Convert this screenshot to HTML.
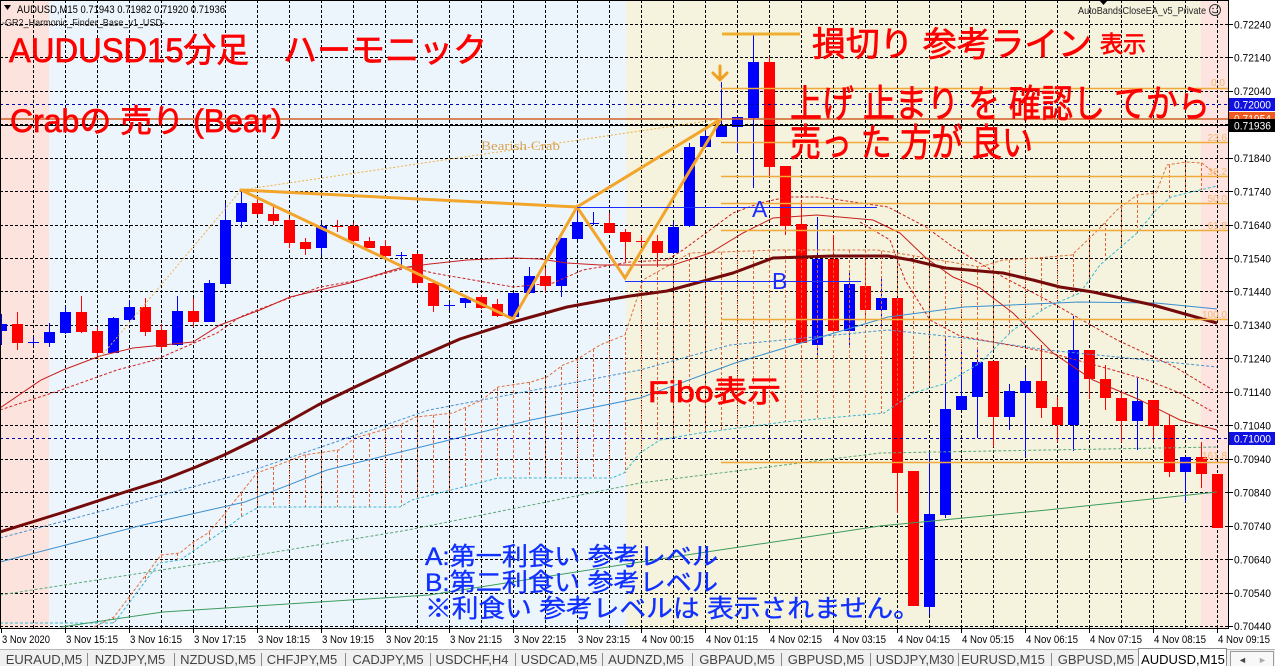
<!DOCTYPE html>
<html><head><meta charset="utf-8">
<style>
html,body{margin:0;padding:0;background:#fff;width:1275px;height:666px;overflow:hidden}
svg{display:block}
text{font-family:"Liberation Sans","Noto Sans CJK JP",sans-serif}
</style></head><body>
<svg width="1275" height="666" viewBox="0 0 1275 666" xmlns="http://www.w3.org/2000/svg">
<!-- backgrounds -->
<rect x="0" y="0" width="1275" height="666" fill="#ffffff"/>
<rect x="0" y="0" width="49" height="628" fill="#fde3de"/>
<rect x="49" y="0" width="577" height="628" fill="#edf5fc"/>
<rect x="626" y="0" width="575" height="628" fill="#f5f3dd"/>
<rect x="1201" y="0" width="27" height="628" fill="#fde4e0"/>

<!-- grid -->
<path d="M33.5 0V628M65.5 0V628M97.5 0V628M129.5 0V628M161.5 0V628M193.5 0V628M225.5 0V628M257.5 0V628M289.5 0V628M321.5 0V628M353.5 0V628M385.5 0V628M417.5 0V628M449.5 0V628M481.5 0V628M513.5 0V628M545.5 0V628M577.5 0V628M609.5 0V628M641.5 0V628M673.5 0V628M705.5 0V628M737.5 0V628M769.5 0V628M801.5 0V628M833.5 0V628M865.5 0V628M897.5 0V628M929.5 0V628M961.5 0V628M993.5 0V628M1025.5 0V628M1057.5 0V628M1089.5 0V628M1121.5 0V628M1153.5 0V628M1185.5 0V628M1217.5 0V628" stroke="#000" stroke-width="1" stroke-dasharray="3 2" fill="none"/>
<path d="M0 24.5H1228M0 57.5H1228M0 91.5H1228M0 124.5H1228M0 158.5H1228M0 191.5H1228M0 225.5H1228M0 258.5H1228M0 291.5H1228M0 325.5H1228M0 358.5H1228M0 392.5H1228M0 425.5H1228M0 459.5H1228M0 492.5H1228M0 526.5H1228M0 559.5H1228M0 593.5H1228M0 626.5H1228" stroke="#000" stroke-width="1" stroke-dasharray="3 2" fill="none"/>

<!-- candles blue -->
<g stroke="#0000ff" stroke-width="1">
<path d="M1.5 314V345M33.5 337V345M49.5 323V347M65.5 307V334M113.5 317V353M129.5 300V321M177.5 296V346M209.5 280V322M225.5 203V285M241.5 190V228M321.5 223V255M401.5 252V265M449.5 303V310M465.5 298V308M513.5 293V318M529.5 267V294M561.5 238V297M577.5 208V240M593.5 212V225M673.5 222V254M689.5 143V227M705.5 127V148M721.5 82V137M737.5 117V153M753.5 34V188M817.5 217V357M849.5 273V348M881.5 278V327M929.5 452V615M945.5 337V518M961.5 352V410M977.5 348V438M1009.5 384V430M1025.5 368V457M1073.5 316V451M1137.5 378V450M1185.5 457V502"/>
<path d="M28 342.5H39M396 255.5H407M444 305.5H455M588 223.5H599"/>
</g>
<g fill="#0000ff">
<rect x="-4" y="324" width="11" height="7"/>
<rect x="44" y="332" width="11" height="11"/>
<rect x="60" y="312" width="11" height="21"/>
<rect x="108" y="318" width="11" height="35"/>
<rect x="124" y="307" width="11" height="13"/>
<rect x="172" y="311" width="11" height="34"/>
<rect x="204" y="283" width="11" height="39"/>
<rect x="220" y="220" width="11" height="64"/>
<rect x="236" y="203" width="11" height="19"/>
<rect x="316" y="226" width="11" height="22"/>
<rect x="460" y="298" width="11" height="5"/>
<rect x="508" y="293" width="11" height="24"/>
<rect x="524" y="276" width="11" height="17"/>
<rect x="556" y="238" width="11" height="48"/>
<rect x="572" y="222" width="11" height="17"/>
<rect x="668" y="227" width="11" height="26"/>
<rect x="684" y="147" width="11" height="79"/>
<rect x="700" y="136" width="11" height="11"/>
<rect x="716" y="126" width="11" height="11"/>
<rect x="732" y="117" width="11" height="10"/>
<rect x="748" y="62" width="11" height="56"/>
<rect x="812" y="259" width="11" height="86"/>
<rect x="844" y="284" width="11" height="47"/>
<rect x="876" y="298" width="11" height="12"/>
<rect x="924" y="514" width="11" height="93"/>
<rect x="940" y="409" width="11" height="106"/>
<rect x="956" y="396" width="11" height="14"/>
<rect x="972" y="362" width="11" height="35"/>
<rect x="1004" y="391" width="11" height="26"/>
<rect x="1020" y="381" width="11" height="12"/>
<rect x="1068" y="350" width="11" height="75"/>
<rect x="1132" y="401" width="11" height="20"/>
<rect x="1180" y="457" width="11" height="15"/>
</g>
<!-- candles red -->
<g stroke="#ff0000" stroke-width="1">
<path d="M17.5 312V350M81.5 296V333M97.5 327V358M145.5 298V336M161.5 324V350M193.5 298V327M257.5 198V215M273.5 207V225M289.5 218V248M305.5 238V255M337.5 220V232M353.5 223V242M369.5 237V248M385.5 240V257M417.5 253V285M433.5 282V312M481.5 295V309M497.5 299V317M545.5 268V292M609.5 213V233M625.5 229V262M641.5 236V246M657.5 235V267M769.5 57V177M785.5 166V235M801.5 200V343M833.5 235V332M865.5 257V320M897.5 298V513M913.5 471V606M993.5 361V447M1041.5 345V418M1057.5 397V442M1089.5 350V399M1105.5 365V410M1121.5 392V442M1153.5 400V442M1169.5 415V477M1201.5 442V488M1217.5 474V528"/>
<path d="M332 226.5H343M636 241.5H647"/>
</g>
<g fill="#ff0000">
<rect x="12" y="324" width="11" height="19"/>
<rect x="76" y="312" width="11" height="20"/>
<rect x="92" y="331" width="11" height="22"/>
<rect x="140" y="307" width="11" height="25"/>
<rect x="156" y="330" width="11" height="17"/>
<rect x="188" y="311" width="11" height="11"/>
<rect x="252" y="203" width="11" height="11"/>
<rect x="268" y="214" width="11" height="7"/>
<rect x="284" y="220" width="11" height="23"/>
<rect x="300" y="242" width="11" height="7"/>
<rect x="348" y="226" width="11" height="15"/>
<rect x="364" y="241" width="11" height="7"/>
<rect x="380" y="246" width="11" height="10"/>
<rect x="412" y="254" width="11" height="29"/>
<rect x="428" y="283" width="11" height="23"/>
<rect x="476" y="297" width="11" height="11"/>
<rect x="492" y="304" width="11" height="12"/>
<rect x="540" y="276" width="11" height="10"/>
<rect x="604" y="223" width="11" height="10"/>
<rect x="620" y="232" width="11" height="10"/>
<rect x="652" y="241" width="11" height="12"/>
<rect x="764" y="62" width="11" height="105"/>
<rect x="780" y="166" width="11" height="60"/>
<rect x="796" y="224" width="11" height="119"/>
<rect x="828" y="259" width="11" height="72"/>
<rect x="860" y="286" width="11" height="24"/>
<rect x="892" y="298" width="11" height="175"/>
<rect x="908" y="471" width="11" height="135"/>
<rect x="988" y="361" width="11" height="56"/>
<rect x="1036" y="381" width="11" height="27"/>
<rect x="1052" y="407" width="11" height="18"/>
<rect x="1084" y="350" width="11" height="29"/>
<rect x="1100" y="379" width="11" height="19"/>
<rect x="1116" y="398" width="11" height="23"/>
<rect x="1148" y="400" width="11" height="26"/>
<rect x="1164" y="425" width="11" height="47"/>
<rect x="1196" y="457" width="11" height="17"/>
<rect x="1212" y="474" width="11" height="54"/>
</g>

<!-- cloud hatch -->
<path d="M113.5 617V623M129.5 597V603M145.5 576V582M161.5 555V563M177.5 553V560M193.5 542V551M209.5 532V540M225.5 513V529M241.5 493V517M257.5 473V508M273.5 467V507M289.5 461V507M305.5 455V507M321.5 453V507M337.5 450V507M353.5 440V507M369.5 434V507M385.5 429V507M401.5 425V506M417.5 417V499M433.5 415V495M449.5 413V491M465.5 408V486M481.5 400V482M497.5 388V478M513.5 385V478M529.5 382V478M545.5 378V478M561.5 367V478M577.5 359V478M593.5 349V478M609.5 336V478M625.5 332V473M641.5 286V452M657.5 272V441M673.5 263V438M689.5 254V435M705.5 253V432M721.5 252V430M737.5 251V428M753.5 251V426M769.5 250V424M785.5 250V422M801.5 250V421M817.5 250V419M833.5 250V418M849.5 250V416M865.5 250V415M881.5 251V413M897.5 253V404M913.5 256V393M929.5 258V388M945.5 261V384M961.5 264V375M977.5 267V365M993.5 263V350M1009.5 260V334M1025.5 259V322M1041.5 258V311M1057.5 256V303M1073.5 254V296M1089.5 237V280M1105.5 223V261M1121.5 207V247M1137.5 195V233M1153.5 193V214M1169.5 165V199M1185.5 162V194M1201.5 163V190" stroke="#e0643a" stroke-width="1" stroke-dasharray="3 2" fill="none"/>
<polyline points="94,627 114,617 161,555 180,553 192,543 208,533 222,517 241,493 257,473 273,467 304,455 339,450 355,438 400,425 416,417 453,413 482,400 498,387 531,382 547,377 563,365 576,360 600,345 625,335 643,280 673,263 690,253 780,250 877,250 897,253 980,267 1003,260 1037,258 1072,255 1095,233 1117,210 1137,195 1156,193 1167,165 1186,162 1202,163 1217,175" fill="none" stroke="#e07040" stroke-width="1" stroke-dasharray="3 2"/>
<polyline points="0,623 114,623 159,563 180,560 220,533 241,517 259,507 400,507 412,500 498,478 612,478 624,473 640,453 660,440 700,433 784,422 884,413 913,393 947,383 980,363 1013,330 1047,307 1080,293 1100,265 1137,233 1156,210 1171,197 1200,190 1217,186" fill="none" stroke="#3fb8cf" stroke-width="1" stroke-dasharray="3 2"/>

<!-- indicator lines -->
<polyline points="61,627 163,612 429,595 640,562 880,526 1047,510 1217,492" fill="none" stroke="#3c9c5c" stroke-width="1"/>
<polyline points="0,595 245,557 408,530 640,483 880,453 1217,447" fill="none" stroke="#5aa878" stroke-width="1" stroke-dasharray="3 2"/>
<polyline points="0,562 143,525 245,502 327,470 429,445 531,420 640,398 735,363 811,340 888,317 964,307 1079,302 1156,303 1217,309" fill="none" stroke="#3a8fd0" stroke-width="1"/>
<polyline points="0,538 245,473 429,410 640,370 730,345 888,330 964,338 1047,350 1217,367" fill="none" stroke="#4a90d0" stroke-width="1" stroke-dasharray="3 2"/>
<polyline points="0,408 41,380 63,370 100,356 133,348 193,342 220,325 260,310 290,297 320,290 350,283 400,268 430,264 467,260 513,258 540,259 567,263 600,265 673,265 710,253 743,233 773,218 817,215 873,220 900,233 926,258 953,277 980,288 1013,313 1053,353 1093,380 1140,400 1180,420 1217,430" fill="none" stroke="#c81e1e" stroke-width="1"/>
<polyline points="0,410 61,390 117,370 155,360 217,333 240,317 257,310 320,287 360,280 410,267 433,273 513,287 553,283 583,270 630,262 667,260 683,250 733,213 760,203 787,197 819,197 888,207 926,227 953,247 1003,277 1047,300 1117,340 1175,367 1213,390" fill="none" stroke="#d02020" stroke-width="1" stroke-dasharray="3 2"/>
<polyline points="860,222 890,240 905,280 930,320 960,336 1047,352 1113,370 1147,380 1180,393 1213,412" fill="none" stroke="#d02020" stroke-width="1" stroke-dasharray="3 2"/>
<polyline points="0,532 61,513 122,493 163,480 196,467 224,455 261,437 318,405 355,387 412,360 460,339 513,322 567,307 600,301 630,296 667,291 733,273 773,258 833,256 888,256 911,260 945,268 1003,273 1033,280 1060,287 1093,292 1153,305 1217,323" fill="none" stroke="#750a0a" stroke-width="3" stroke-linejoin="round"/>

<!-- horizontal price lines -->
<path d="M0 104.5H1228M0 438.5H1228" stroke="#0000b0" stroke-width="1" stroke-dasharray="3 3"/>
<path d="M0 119H1228" stroke="#d0622a" stroke-width="1.5"/>
<path d="M0 125.5H1228" stroke="#000" stroke-width="1"/>

<!-- fibo -->
<path d="M721 88.5H1228M721 142.5H1228M721 176.5H1228M721 203.5H1228M721 230.5H1228M721 319.5H1228M721 462.5H1228" stroke="#f0aa3a" stroke-width="1.5"/>
<g font-size="10" fill="#f2b870" text-anchor="end">
<text x="1225" y="86">0.0</text>
<text x="1227" y="141">23.6</text>
<text x="1227" y="175">38.2</text>
<text x="1227" y="202">50.0</text>
<text x="1227" y="229">61.8</text>
<text x="1227" y="318">100.0</text>
<text x="1227" y="459">161.8</text>
</g>

<!-- harmonic pattern -->
<polyline points="98,360 241,190 721,119" fill="none" stroke="#eeb040" stroke-width="1" stroke-dasharray="2 2"/>
<g stroke="#f2a52a" stroke-width="3" stroke-linecap="round" fill="none">
<path d="M241 190L513 319L577 207L625 278L721 119L577 207M241 190L577 207"/>
</g>
<text x="481" y="150" font-size="12.5" fill="#d8a255" style="font-family:'Liberation Serif',serif" textLength="79" lengthAdjust="spacingAndGlyphs">Bearish Crab</text>

<!-- A / B target lines -->
<path d="M577 207.5H877M625 281.5H861" stroke="#1a2cff" stroke-width="1"/>
<text x="752" y="217" font-size="23" fill="#1a2cff">A</text>
<text x="772" y="289" font-size="23" fill="#1a2cff">B</text>

<!-- stop line & arrow -->
<path d="M722 34H800" stroke="#f0b030" stroke-width="3"/>
<g stroke="#f0a020" stroke-width="3" fill="none" stroke-linecap="round" stroke-linejoin="round">
<path d="M720 66V80M713 73L720 80L727 73"/>
</g>

<!-- red annotations -->
<g fill="#ff0000" stroke="#ff0000" stroke-width="0.7">
<text x="9" y="62" font-size="34" textLength="240" lengthAdjust="spacingAndGlyphs">AUDUSD15分足</text>
<text x="283" y="62" font-size="34" textLength="204" lengthAdjust="spacingAndGlyphs">ハーモニック</text>
<text x="10" y="132" font-size="32" textLength="272" lengthAdjust="spacingAndGlyphs">Crabの 売り (Bear)</text>
<text x="812" y="56" font-size="34" textLength="280" lengthAdjust="spacingAndGlyphs">損切り 参考ライン</text>
<text x="1100" y="52" font-size="23" textLength="46" lengthAdjust="spacingAndGlyphs">表示</text>
<text x="790" y="117" font-size="38" textLength="420" lengthAdjust="spacingAndGlyphs">上げ 止まり を 確認し てから</text>
<text x="790" y="156" font-size="38" textLength="243" lengthAdjust="spacingAndGlyphs">売っ た 方が 良い</text>
<text x="648" y="402" font-size="30" textLength="133" lengthAdjust="spacingAndGlyphs">Fibo表示</text>
</g>
<!-- blue annotations -->
<g fill="#1030ff" stroke="#1030ff" stroke-width="0.35" font-size="25">
<text x="425" y="565" textLength="293" lengthAdjust="spacingAndGlyphs">A:第一利食い 参考レベル</text>
<text x="425" y="591" textLength="293" lengthAdjust="spacingAndGlyphs">B:第二利食い 参考レベル</text>
<text x="425" y="617" textLength="495" lengthAdjust="spacingAndGlyphs">※利食い 参考レベルは 表示されません。</text>
</g>

<!-- header texts -->
<path d="M4 5H11L7.5 10Z" fill="#000"/>
<text x="17" y="13" font-size="11" fill="#000" textLength="208" lengthAdjust="spacingAndGlyphs">AUDUSD,M15 0.71943 0.71982 0.71920 0.71936</text>
<text x="2" y="26" font-size="10.5" fill="#222" textLength="163" lengthAdjust="spacingAndGlyphs">-GR2_Harmonic_Finder_Base_v1_USD-</text>
<text x="1078" y="14" font-size="10.5" fill="#222" textLength="128" lengthAdjust="spacingAndGlyphs">AutoBandsCloseEA_v5_Private</text>
<circle cx="1215" cy="10" r="5.5" fill="none" stroke="#333" stroke-width="1"/>
<circle cx="1213" cy="8.5" r="0.8" fill="#333"/><circle cx="1217" cy="8.5" r="0.8" fill="#333"/>
<path d="M1212 11.5Q1215 14 1218 11.5" stroke="#333" fill="none" stroke-width="0.9"/>
<path d="M1099 0H1108L1103.5 5Z" fill="#000"/>

<!-- chart frame -->
<rect x="0.5" y="0.5" width="1228" height="628" fill="none" stroke="#000" stroke-width="1"/>

<!-- price axis -->
<path d="M1229 24.5H1233M1229 57.5H1233M1229 91.5H1233M1229 124.5H1233M1229 158.5H1233M1229 191.5H1233M1229 225.5H1233M1229 258.5H1233M1229 291.5H1233M1229 325.5H1233M1229 358.5H1233M1229 392.5H1233M1229 425.5H1233M1229 459.5H1233M1229 492.5H1233M1229 526.5H1233M1229 559.5H1233M1229 593.5H1233M1229 626.5H1233" stroke="#000"/>
<g font-size="11" fill="#000">
<text x="1234" y="28.5" textLength="37" lengthAdjust="spacingAndGlyphs">0.72240</text>
<text x="1234" y="61.5" textLength="37" lengthAdjust="spacingAndGlyphs">0.72140</text>
<text x="1234" y="95" textLength="37" lengthAdjust="spacingAndGlyphs">0.72040</text>
<text x="1234" y="162" textLength="37" lengthAdjust="spacingAndGlyphs">0.71840</text>
<text x="1234" y="195.5" textLength="37" lengthAdjust="spacingAndGlyphs">0.71740</text>
<text x="1234" y="229" textLength="37" lengthAdjust="spacingAndGlyphs">0.71640</text>
<text x="1234" y="262.5" textLength="37" lengthAdjust="spacingAndGlyphs">0.71540</text>
<text x="1234" y="295.5" textLength="37" lengthAdjust="spacingAndGlyphs">0.71440</text>
<text x="1234" y="329" textLength="37" lengthAdjust="spacingAndGlyphs">0.71340</text>
<text x="1234" y="362.5" textLength="37" lengthAdjust="spacingAndGlyphs">0.71240</text>
<text x="1234" y="396" textLength="37" lengthAdjust="spacingAndGlyphs">0.71140</text>
<text x="1234" y="429.5" textLength="37" lengthAdjust="spacingAndGlyphs">0.71040</text>
<text x="1234" y="463" textLength="37" lengthAdjust="spacingAndGlyphs">0.70940</text>
<text x="1234" y="496.5" textLength="37" lengthAdjust="spacingAndGlyphs">0.70840</text>
<text x="1234" y="530" textLength="37" lengthAdjust="spacingAndGlyphs">0.70740</text>
<text x="1234" y="563.5" textLength="37" lengthAdjust="spacingAndGlyphs">0.70640</text>
<text x="1234" y="597" textLength="37" lengthAdjust="spacingAndGlyphs">0.70540</text>
<text x="1234" y="630" textLength="37" lengthAdjust="spacingAndGlyphs">0.70440</text>
</g>
<rect x="1229" y="98" width="46" height="13" fill="#1010e0"/>
<text x="1234" y="108.5" font-size="11" fill="#fff" textLength="37" lengthAdjust="spacingAndGlyphs">0.72000</text>
<rect x="1229" y="112" width="46" height="13" fill="#f05a1e"/>
<text x="1234" y="122.5" font-size="11" fill="#fff" textLength="37" lengthAdjust="spacingAndGlyphs">0.71954</text>
<rect x="1229" y="119" width="46" height="13" fill="#000"/>
<text x="1234" y="129.5" font-size="11" fill="#fff" textLength="37" lengthAdjust="spacingAndGlyphs">0.71936</text>
<rect x="1229" y="432" width="46" height="13" fill="#1010e0"/>
<text x="1234" y="442.5" font-size="11" fill="#fff" textLength="37" lengthAdjust="spacingAndGlyphs">0.71000</text>

<!-- time axis -->
<path d="M1.5 629V633M65.5 629V633M129.5 629V633M193.5 629V633M257.5 629V633M321.5 629V633M385.5 629V633M449.5 629V633M513.5 629V633M577.5 629V633M641.5 629V633M705.5 629V633M769.5 629V633M833.5 629V633M897.5 629V633M961.5 629V633M1025.5 629V633M1089.5 629V633M1153.5 629V633M1217.5 629V633" stroke="#000"/>
<g font-size="11" fill="#000">
<text x="2" y="643" textLength="48" lengthAdjust="spacingAndGlyphs">3 Nov 2020</text>
<text x="66" y="643" textLength="52" lengthAdjust="spacingAndGlyphs">3 Nov 15:15</text>
<text x="130" y="643" textLength="52" lengthAdjust="spacingAndGlyphs">3 Nov 16:15</text>
<text x="194" y="643" textLength="52" lengthAdjust="spacingAndGlyphs">3 Nov 17:15</text>
<text x="258" y="643" textLength="52" lengthAdjust="spacingAndGlyphs">3 Nov 18:15</text>
<text x="322" y="643" textLength="52" lengthAdjust="spacingAndGlyphs">3 Nov 19:15</text>
<text x="386" y="643" textLength="52" lengthAdjust="spacingAndGlyphs">3 Nov 20:15</text>
<text x="450" y="643" textLength="52" lengthAdjust="spacingAndGlyphs">3 Nov 21:15</text>
<text x="514" y="643" textLength="52" lengthAdjust="spacingAndGlyphs">3 Nov 22:15</text>
<text x="578" y="643" textLength="52" lengthAdjust="spacingAndGlyphs">3 Nov 23:15</text>
<text x="642" y="643" textLength="52" lengthAdjust="spacingAndGlyphs">4 Nov 00:15</text>
<text x="706" y="643" textLength="52" lengthAdjust="spacingAndGlyphs">4 Nov 01:15</text>
<text x="770" y="643" textLength="52" lengthAdjust="spacingAndGlyphs">4 Nov 02:15</text>
<text x="834" y="643" textLength="52" lengthAdjust="spacingAndGlyphs">4 Nov 03:15</text>
<text x="898" y="643" textLength="52" lengthAdjust="spacingAndGlyphs">4 Nov 04:15</text>
<text x="962" y="643" textLength="52" lengthAdjust="spacingAndGlyphs">4 Nov 05:15</text>
<text x="1026" y="643" textLength="52" lengthAdjust="spacingAndGlyphs">4 Nov 06:15</text>
<text x="1090" y="643" textLength="52" lengthAdjust="spacingAndGlyphs">4 Nov 07:15</text>
<text x="1154" y="643" textLength="52" lengthAdjust="spacingAndGlyphs">4 Nov 08:15</text>
<text x="1218" y="643" textLength="52" lengthAdjust="spacingAndGlyphs">4 Nov 09:15</text>
</g>

<!-- tabs -->
<rect x="0" y="649" width="1275" height="17" fill="#f0f0f0"/>
<path d="M0 649.5H1275" stroke="#b4b4b4"/>
<path d="M87.5 653V666M174.5 653V666M261.5 653V666M345.5 653V666M430.5 653V666M515.5 653V666M602.5 653V666M692.5 653V666M781.5 653V666M870.5 653V666M958.5 653V666M1051.5 653V666" stroke="#8a8a8a"/>
<rect x="1138.5" y="648.5" width="88" height="18" fill="#ffffff" stroke="#8a8a8a"/>
<rect x="1230.5" y="651.5" width="43" height="15" fill="#f8f8f8" stroke="#9a9a9a"/>
<text x="1238" y="663" font-size="9" fill="#444">◄</text>
<text x="1258" y="663" font-size="9" fill="#aaa">►</text>
<g font-size="13" fill="#444" text-anchor="middle">
<text x="44" y="664">EURAUD,M5</text>
<text x="130" y="664">NZDJPY,M5</text>
<text x="218" y="664">NZDUSD,M5</text>
<text x="302" y="664">CHFJPY,M5</text>
<text x="388" y="664">CADJPY,M5</text>
<text x="472" y="664">USDCHF,H4</text>
<text x="559" y="664">USDCAD,M5</text>
<text x="646" y="664">AUDNZD,M5</text>
<text x="737" y="664">GBPAUD,M5</text>
<text x="826" y="664">GBPUSD,M5</text>
<text x="915" y="664">USDJPY,M30</text>
<text x="1003" y="664">EURUSD,M15</text>
<text x="1096" y="664">GBPUSD,M5</text>
<text x="1183" y="664" fill="#000">AUDUSD,M15</text>
</g>
</svg>
</body></html>
